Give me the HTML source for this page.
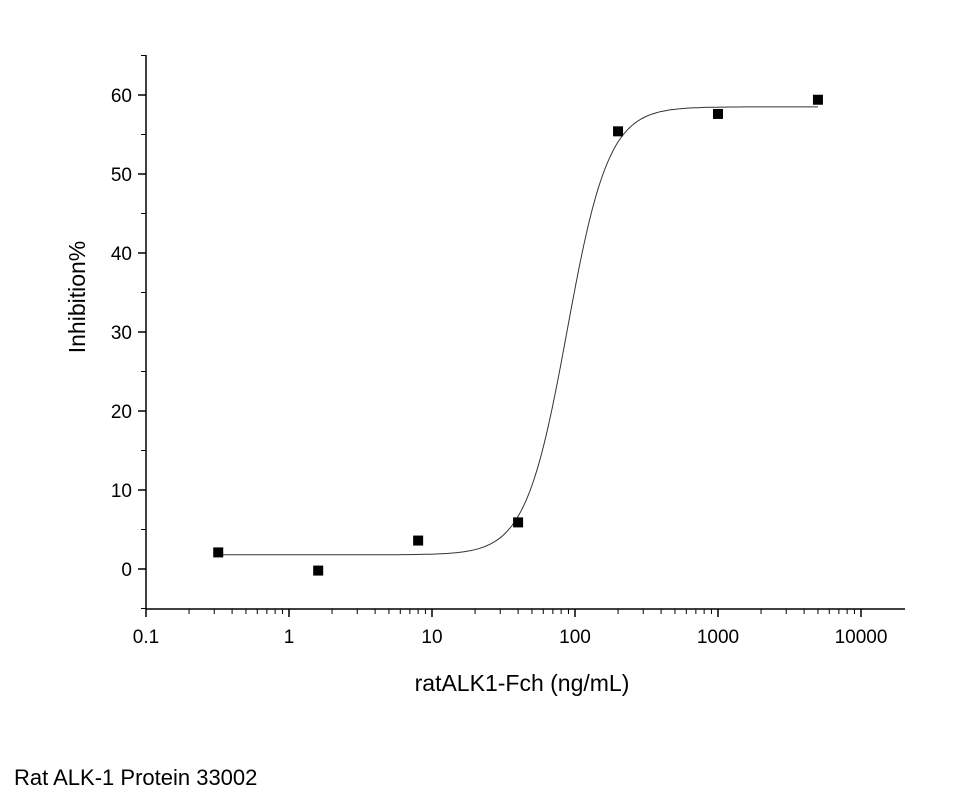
<!DOCTYPE html>
<html><head><meta charset="utf-8"><style>
body{margin:0;background:#fff;width:960px;height:803px;overflow:hidden}
svg text{font-family:"Liberation Sans",Arial,sans-serif;fill:#000}
</style></head><body>
<svg id="chart" width="960" height="803">
<g id="axes"></g><g id="marks"></g>
<text x="522" y="691" font-size="23" text-anchor="middle">ratALK1-Fch (ng/mL)</text>
<text transform="translate(85,297) rotate(-90)" font-size="23" text-anchor="middle">Inhibition%</text>
<text x="14" y="785" font-size="22">Rat ALK-1 Protein 33002</text>
</svg>
<script>
const xValues=[0.32,1.6,8,40,200,1000,5000];
const yValues=[2.1,-0.2,3.6,5.9,55.4,57.6,59.4];
const xTicks=[0.1,1,10,100,1000,10000];
const xTickLabels=["0.1","1","10","100","1000","10000"];
const yTicks=[0,10,20,30,40,50,60];
const fitBottom=1.8, fitTop=58.5, fitEC50=88, fitHill=3.0;
const NS="http://www.w3.org/2000/svg";
function X(v){return 146+(Math.log10(v)+1)*143;}
function Y(v){return 569-v*7.9;}
const axes=document.getElementById('axes'),marks=document.getElementById('marks');
function mk(tag,at,parent){const e=document.createElementNS(NS,tag);for(const k in at)e.setAttribute(k,at[k]);parent.appendChild(e);return e;}
let l=mk('line',{x1:146,y1:55,x2:146,y2:609,stroke:'#000','stroke-width':1.5},axes);


l=mk('line',{x1:146,y1:609,x2:905,y2:609,stroke:'#000','stroke-width':1.5},axes);


xTicks.forEach((t,i)=>{
 mk('line',{x1:X(t),y1:609,x2:X(t),y2:617,stroke:'#000','stroke-width':1.5},axes);
 const tx=mk('text',{x:X(t),y:643,'font-size':19,'text-anchor':'middle'},axes);tx.textContent=xTickLabels[i];
 
 
 if(i<xTicks.length-1)for(let m=2;m<10;m++)mk('line',{x1:X(t*m),y1:609,x2:X(t*m),y2:614,stroke:'#000','stroke-width':1},axes);
});
yTicks.forEach(t=>{
 mk('line',{x1:138,y1:Y(t),x2:146,y2:Y(t),stroke:'#000','stroke-width':1.5},axes);
 mk('line',{x1:141,y1:Y(t+5),x2:146,y2:Y(t+5),stroke:'#000','stroke-width':1},axes);
 const tx=mk('text',{x:132,y:Y(t)+7,'font-size':19,'text-anchor':'end'},axes);tx.textContent=t;
 
 
});
mk('line',{x1:141,y1:Y(-5),x2:146,y2:Y(-5),stroke:'#000','stroke-width':1},axes);
let d='';
const lo=Math.log10(xValues[0]),hi=Math.log10(xValues[xValues.length-1]);
for(let i=0;i<=300;i++){const lx=lo+(hi-lo)*i/300,x=Math.pow(10,lx);
 const y=fitBottom+(fitTop-fitBottom)/(1+Math.pow(fitEC50/x,fitHill));
 d+=(i?'L':'M')+X(x).toFixed(1)+','+Y(y).toFixed(1);}
const p=mk('path',{d:d,fill:'none',stroke:'#333','stroke-width':1},marks);


xValues.forEach((v,i)=>{
 const r=mk('rect',{x:X(v)-5,y:Y(yValues[i])-5,width:10,height:10,fill:'#000'},marks);
 
 
});
</script>
</body></html>
